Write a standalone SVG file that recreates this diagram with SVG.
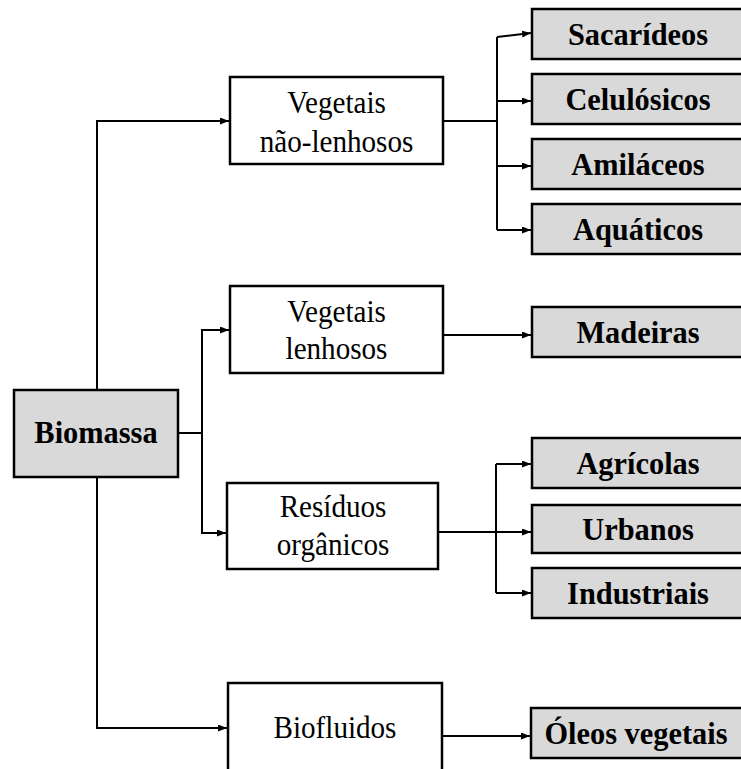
<svg xmlns="http://www.w3.org/2000/svg" width="741" height="769" viewBox="0 0 741 769">
<defs>
<style>
.box{fill:#fff;stroke:#000;stroke-width:2.5}
.gbox{fill:#d9d9d9;stroke:#000;stroke-width:2.5}
.r{font-family:"Liberation Serif","Times New Roman",serif;font-size:32px;text-anchor:middle;fill:#000}
.b{font-family:"Liberation Serif","Times New Roman",serif;font-size:32px;font-weight:bold;text-anchor:middle;fill:#000}
.c{fill:none;stroke:#000;stroke-width:2}
.a{marker-end:url(#ah)}
</style>
<marker id="ah" markerUnits="userSpaceOnUse" markerWidth="11" markerHeight="9" refX="9" refY="3.5" orient="auto">
<path d="M0,0 L9,3.5 L0,7 z" fill="#000"/>
</marker>
</defs>
<rect width="741" height="769" fill="#fff"/>
<g id="connectors">
<path class="c a" d="M97,390 V121 H229"/>
<path class="c a" d="M97,477 V728 H227"/>
<path class="c" d="M178,433 H202"/>
<path class="c a" d="M202,433 V330 H229"/>
<path class="c a" d="M202,433 V533 H226"/>
<path class="c" d="M443,121 H497 M497,37 V230"/>
<path class="c a" d="M497,37 L531,33"/>
<path class="c a" d="M497,101 H531"/>
<path class="c a" d="M497,166 H531"/>
<path class="c a" d="M497,230 H531"/>
<path class="c a" d="M443,335 H531"/>
<path class="c" d="M496,464 V593"/>
<path class="c a" d="M438,532 H531"/>
<path class="c a" d="M496,464 H531"/>
<path class="c a" d="M496,593 H531"/>
<path class="c a" d="M442,736 H530"/>
</g>
<g id="biomassa"><rect class="gbox" x="14" y="390" width="164" height="87"/><text class="b" transform="translate(96,443) scale(0.95,1)">Biomassa</text></g>
<g id="vegetais-nao-lenhosos"><rect class="box" x="230" y="77" width="213" height="87"/><text class="r" transform="translate(336.5,113) scale(0.91,1)">Vegetais</text><text class="r" transform="translate(336.5,152) scale(0.91,1)">não-lenhosos</text></g>
<g id="vegetais-lenhosos"><rect class="box" x="230" y="286" width="213" height="87"/><text class="r" transform="translate(336.5,322) scale(0.91,1)">Vegetais</text><text class="r" transform="translate(336.5,359) scale(0.91,1)">lenhosos</text></g>
<g id="residuos-organicos"><rect class="box" x="227" y="483" width="211" height="86"/><text class="r" transform="translate(333,517) scale(0.91,1)">Resíduos</text><text class="r" transform="translate(333,555) scale(0.91,1)">orgânicos</text></g>
<g id="biofluidos"><rect class="box" x="228" y="683" width="214" height="100"/><text class="r" transform="translate(335,738) scale(0.91,1)">Biofluidos</text></g>
<g id="sacarideos"><rect class="gbox" x="532" y="9" width="213" height="50"/><text class="b" transform="translate(638,45) scale(0.95,1)">Sacarídeos</text></g>
<g id="celulosicos"><rect class="gbox" x="532" y="74" width="213" height="50"/><text class="b" transform="translate(638,110) scale(0.95,1)">Celulósicos</text></g>
<g id="amilaceos"><rect class="gbox" x="532" y="139" width="213" height="50"/><text class="b" transform="translate(638,175) scale(0.95,1)">Amiláceos</text></g>
<g id="aquaticos"><rect class="gbox" x="532" y="204" width="213" height="50"/><text class="b" transform="translate(638,240) scale(0.95,1)">Aquáticos</text></g>
<g id="madeiras"><rect class="gbox" x="532" y="307" width="213" height="50"/><text class="b" transform="translate(638,343) scale(0.95,1)">Madeiras</text></g>
<g id="agricolas"><rect class="gbox" x="532" y="438" width="213" height="50"/><text class="b" transform="translate(638,474) scale(0.95,1)">Agrícolas</text></g>
<g id="urbanos"><rect class="gbox" x="532" y="505" width="213" height="48"/><text class="b" transform="translate(638,540) scale(0.95,1)">Urbanos</text></g>
<g id="industriais"><rect class="gbox" x="532" y="568" width="213" height="50"/><text class="b" transform="translate(638,604) scale(0.95,1)">Industriais</text></g>
<g id="oleos-vegetais"><rect class="gbox" x="531" y="708" width="214" height="50"/><text class="b" transform="translate(636,744) scale(0.95,1)">Óleos vegetais</text></g>
</svg>
